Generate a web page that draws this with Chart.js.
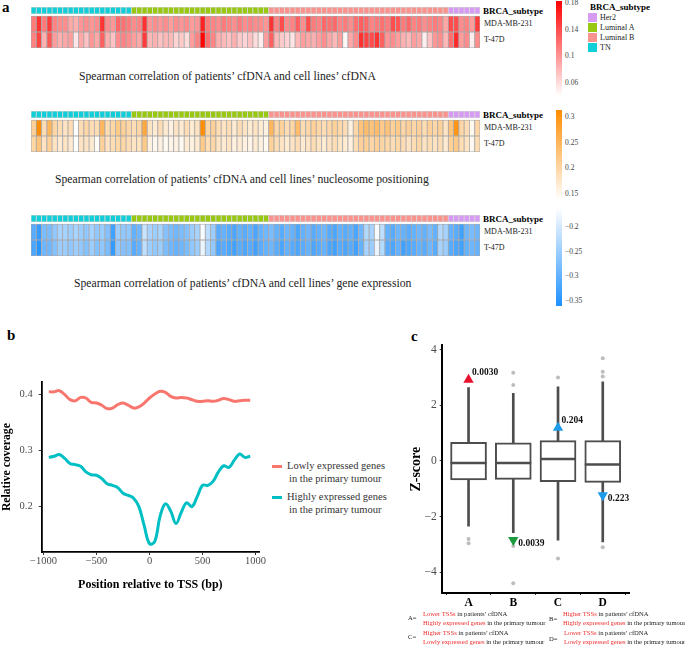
<!DOCTYPE html>
<html>
<head>
<meta charset="utf-8">
<script src="https://cdn.jsdelivr.net/npm/chart.js@4.4.1/dist/chart.umd.min.js"></script>
<style>
  body { margin: 0; background: #fff; }
  #fig { position: relative; width: 685px; height: 646px; overflow: hidden;
         font-family: "Liberation Serif", "Times New Roman", serif; color: #222; }
  #fig canvas { position: absolute; }
  .t { position: absolute; white-space: nowrap; line-height: 1; transform: translateY(-50%); }
  .b { font-weight: bold; color: #000; }
  .bar { position: absolute; left: 556px; width: 6px; }
  .sw { position: absolute; width: 9px; height: 9px; left: 588px; }
  .ln { position: absolute; left: 272px; width: 10px; height: 3px; }
  .red { color: #ee2c2c; }
</style>
</head>
<body>
<div id="fig">
  <!-- panel a -->
  <div class="t b" style="left:2px;top:7px;font-size:15px">a</div>
  <canvas id="hm1" width="449" height="41" style="left:31px;top:7px"></canvas>
  <canvas id="hm2" width="449" height="41" style="left:31px;top:111px"></canvas>
  <canvas id="hm3" width="449" height="41" style="left:31px;top:215px"></canvas>
  <div id="hmText"></div>
  <div class="t" style="left:79px;top:77px;font-size:11.7px">Spearman correlation of patients’ cfDNA and cell lines’ cfDNA</div>
  <div class="t" style="left:55px;top:180px;font-size:11.7px">Spearman correlation of patients’ cfDNA and cell lines’ nucleosome positioning</div>
  <div class="t" style="left:74px;top:284px;font-size:11.7px">Spearman correlation of patients’ cfDNA and cell lines’ gene expression</div>
  <div id="bars"></div>
  <div id="subLegend"></div>

  <!-- panel b -->
  <div class="t b" style="left:7px;top:335px;font-size:15px">b</div>
  <canvas id="tss" width="270" height="230" style="left:0;top:370px"></canvas>
  <div class="ln" style="top:465px;background:#F8766D"></div>
  <div class="t" style="left:287px;top:466px;font-size:10.5px;color:#333">Lowly expressed genes</div>
  <div class="t" style="left:289px;top:479px;font-size:10.5px;color:#333">in the primary tumour</div>
  <div class="ln" style="top:496px;background:#00BFC4"></div>
  <div class="t" style="left:287px;top:497px;font-size:10.5px;color:#333">Highly expressed genes</div>
  <div class="t" style="left:289px;top:510px;font-size:10.5px;color:#333">in the primary tumour</div>

  <!-- panel c -->
  <div class="t b" style="left:411px;top:336px;font-size:15px">c</div>
  <canvas id="zbox" width="250" height="290" style="left:400px;top:325px"></canvas>
  <div style="font-size:6.6px">
    <div class="t" style="left:408px;top:618px">A=</div>
    <div class="t" style="left:423px;top:614px"><span class="red">Lower TSSs</span> in patients’ cfDNA</div>
    <div class="t" style="left:423px;top:622.5px"><span class="red">Highly expressed genes</span> in the primary tumour</div>
    <div class="t" style="left:549px;top:619px">B=</div>
    <div class="t" style="left:563px;top:614px"><span class="red">Higher TSSs</span> in patients’ cfDNA</div>
    <div class="t" style="left:563px;top:622.5px"><span class="red">Highly expressed genes</span> in the primary tumour</div>
    <div class="t" style="left:408px;top:637px">C=</div>
    <div class="t" style="left:423px;top:633px"><span class="red">Higher TSSs</span> in patients’ cfDNA</div>
    <div class="t" style="left:423px;top:641.5px"><span class="red">Lowly expressed genes</span> in the primary tumour</div>
    <div class="t" style="left:549px;top:639px">D=</div>
    <div class="t" style="left:564px;top:633px"><span class="red">Lower TSSs</span> in patients’ cfDNA</div>
    <div class="t" style="left:564px;top:641.5px"><span class="red">Lowly expressed genes</span> in the primary tumour</div>
  </div>
</div>

<script>
// ---- panel a: samples and correlations ----
const subtypes = ["TN", "Luminal A", "Luminal B", "Her2"];
const subtypeCounts = [19, 26, 34, 6];
const legendOrder = ["Her2", "Luminal A", "Luminal B", "TN"];
const rowNames = ["MDA-MB-231", "T-47D"];

const cfdnaMDA = [
  0.115, 0.155, 0.115, 0.15, 0.11, 0.105, 0.105, 0.09, 0.085, 0.1, 0.105, 0.1, 0.105, 0.155, 0.105, 0.1, 0.125, 0.12, 0.115,
  0.105, 0.11, 0.155, 0.1, 0.105, 0.1, 0.105, 0.095, 0.105, 0.1, 0.105, 0.095, 0.1, 0.165, 0.115, 0.11, 0.105, 0.115, 0.11, 0.105, 0.115, 0.105, 0.11, 0.105, 0.105, 0.1,
  0.155, 0.11, 0.14, 0.105, 0.11, 0.13, 0.105, 0.14, 0.115, 0.11, 0.125, 0.12, 0.125, 0.11, 0.115, 0.105, 0.12, 0.13, 0.125, 0.11, 0.115, 0.12, 0.115, 0.14, 0.135, 0.115, 0.125, 0.11, 0.115, 0.105, 0.11, 0.115, 0.11, 0.09,
  0.14, 0.14, 0.105, 0.11, 0.095, 0.15
];
const cfdnaT47D = [
  0.11, 0.145, 0.085, 0.135, 0.095, 0.085, 0.09, 0.095, 0.055, 0.09, 0.075, 0.1, 0.09, 0.13, 0.085, 0.075, 0.105, 0.11, 0.105,
  0.095, 0.09, 0.15, 0.08, 0.085, 0.075, 0.08, 0.08, 0.065, 0.07, 0.06, 0.095, 0.11, 0.18, 0.12, 0.11, 0.085, 0.08, 0.075, 0.085, 0.07, 0.065, 0.075, 0.06, 0.05, 0.095,
  0.13, 0.08, 0.07, 0.065, 0.055, 0.08, 0.095, 0.09, 0.085, 0.095, 0.105, 0.09, 0.08, 0.095, 0.045, 0.09, 0.105, 0.155, 0.145, 0.14, 0.155, 0.13, 0.1, 0.105, 0.095, 0.085, 0.08, 0.095, 0.09, 0.05, 0.075, 0.1, 0.105, 0.08,
  0.12, 0.16, 0.095, 0.105, 0.05, 0.105
];
const nucMDA = [
  0.21, 0.31, 0.19, 0.25, 0.2, 0.19, 0.18, 0.19, 0.14, 0.19, 0.2, 0.19, 0.19, 0.25, 0.19, 0.2, 0.22, 0.21, 0.2,
  0.19, 0.2, 0.27, 0.18, 0.17, 0.19, 0.17, 0.16, 0.18, 0.17, 0.19, 0.17, 0.18, 0.31, 0.2, 0.21, 0.19, 0.18, 0.19, 0.17, 0.19, 0.18, 0.17, 0.18, 0.17, 0.16,
  0.25, 0.2, 0.21, 0.19, 0.2, 0.24, 0.19, 0.2, 0.21, 0.2, 0.19, 0.2, 0.21, 0.2, 0.19, 0.16, 0.2, 0.23, 0.24, 0.23, 0.24, 0.22, 0.23, 0.21, 0.22, 0.2, 0.21, 0.2, 0.21, 0.19, 0.21, 0.2, 0.21, 0.18,
  0.23, 0.3, 0.2, 0.19, 0.15, 0.2
];
const nucT47D = [
  0.2, 0.23, 0.18, 0.21, 0.18, 0.17, 0.18, 0.17, 0.14, 0.18, 0.18, 0.17, 0.145, 0.21, 0.18, 0.19, 0.2, 0.2, 0.19,
  0.18, 0.18, 0.22, 0.16, 0.15, 0.16, 0.15, 0.155, 0.16, 0.15, 0.17, 0.16, 0.17, 0.22, 0.19, 0.2, 0.18, 0.17, 0.18, 0.16, 0.17, 0.16, 0.155, 0.17, 0.16, 0.15,
  0.21, 0.19, 0.18, 0.17, 0.18, 0.19, 0.17, 0.18, 0.19, 0.18, 0.17, 0.18, 0.19, 0.18, 0.17, 0.16, 0.19, 0.21, 0.21, 0.2, 0.21, 0.2, 0.2, 0.19, 0.2, 0.19, 0.18, 0.19, 0.2, 0.18, 0.19, 0.18, 0.19, 0.17,
  0.21, 0.22, 0.19, 0.18, 0.15, 0.19
];
const exprMDA = [
  -0.31, -0.34, -0.28, -0.28, -0.26, -0.24, -0.24, -0.25, -0.24, -0.25, -0.26, -0.24, -0.26, -0.25, -0.27, -0.33, -0.25, -0.26, -0.26,
  -0.3, -0.29, -0.21, -0.24, -0.25, -0.24, -0.27, -0.28, -0.29, -0.28, -0.27, -0.25, -0.24, -0.17, -0.22, -0.25, -0.31, -0.3, -0.31, -0.32, -0.3, -0.31, -0.3, -0.32, -0.3, -0.29,
  -0.28, -0.3, -0.31, -0.29, -0.3, -0.32, -0.3, -0.29, -0.31, -0.3, -0.29, -0.31, -0.32, -0.3, -0.31, -0.3, -0.32, -0.29, -0.23, -0.24, -0.17, -0.22, -0.3, -0.31, -0.29, -0.3, -0.31, -0.3, -0.29, -0.3, -0.28, -0.3, -0.23, -0.24,
  -0.3, -0.31, -0.33, -0.29, -0.28, -0.29
];
const exprT47D = [
  -0.32, -0.35, -0.29, -0.29, -0.27, -0.25, -0.25, -0.26, -0.25, -0.26, -0.27, -0.25, -0.27, -0.26, -0.28, -0.34, -0.26, -0.27, -0.27,
  -0.31, -0.3, -0.22, -0.25, -0.26, -0.25, -0.28, -0.29, -0.3, -0.29, -0.28, -0.26, -0.25, -0.18, -0.23, -0.26, -0.32, -0.31, -0.32, -0.33, -0.31, -0.32, -0.31, -0.33, -0.31, -0.3,
  -0.29, -0.31, -0.32, -0.3, -0.31, -0.32, -0.31, -0.3, -0.32, -0.31, -0.3, -0.32, -0.33, -0.31, -0.32, -0.31, -0.33, -0.3, -0.24, -0.25, -0.18, -0.23, -0.31, -0.32, -0.3, -0.33, -0.32, -0.31, -0.3, -0.31, -0.29, -0.31, -0.24, -0.25,
  -0.31, -0.32, -0.33, -0.3, -0.29, -0.3
];
const cfdnaTicks = [0.18, 0.14, 0.1, 0.06];
const nucTicks = [0.3, 0.25, 0.2, 0.15];
const exprTicks = [-0.2, -0.25, -0.3, -0.35];

// ---- panel b: coverage around TSS ----
const tssPositions = [-950, -900, -850, -800, -750, -700, -650, -600, -550, -500, -450, -400, -350, -300, -250, -200, -150, -100, -50,
  0, 50, 100, 150, 200, 250, 300, 350, 400, 450, 500, 550, 600, 650, 700, 750, 800, 850, 900, 950];
const lowlyCoverage = [0.405, 0.405, 0.407, 0.4, 0.391, 0.389, 0.395, 0.394, 0.386, 0.385, 0.381, 0.375, 0.376, 0.382, 0.385, 0.381, 0.376, 0.378, 0.385,
  0.394, 0.401, 0.406, 0.404, 0.397, 0.394, 0.395, 0.394, 0.391, 0.388, 0.388, 0.389, 0.388, 0.39, 0.393, 0.391, 0.388, 0.389, 0.39, 0.39];
const highlyCoverage = [0.288, 0.29, 0.293, 0.286, 0.277, 0.275, 0.272, 0.262, 0.257, 0.256, 0.25, 0.241, 0.238, 0.234, 0.224, 0.22, 0.215, 0.2, 0.166,
  0.134, 0.138, 0.183, 0.205, 0.192, 0.17, 0.19, 0.207, 0.2, 0.218, 0.238, 0.238, 0.245, 0.262, 0.273, 0.27, 0.283, 0.294, 0.288, 0.29];

// ---- panel c: z-scores ----
const groups = ["A", "B", "C", "D"];
const whiskerLow = [-2.34, -2.57, -2.84, -2.91];
const boxQ1 = [-0.68, -0.66, -0.74, -0.77];
const boxMedian = [-0.07, -0.07, 0.07, -0.125];
const boxQ3 = [0.67, 0.65, 0.73, 0.73];
const whiskerHigh = [2.64, 2.43, 2.66, 2.84];
const outlierGroup = ["A", "A", "B", "B", "B", "B", "C", "C", "D", "D", "D", "D"];
const outlierValue = [-2.8, -2.95, 2.73, 3.17, -3.05, -4.39, 3.0, -3.5, 3.69, 3.2, 3.03, -3.1];
const markerValue = [2.92, -2.84, 1.19, -1.23];
const markerDir = ["up", "down", "up", "down"];
const markerLabel = ["0.0030", "0.0039", "0.204", "0.223"];

// ---- helpers ----
Chart.defaults.font.family = '"Liberation Serif", "Times New Roman", serif';
const subtypeColors = { "TN": "#12CED8", "Luminal A": "#98C812", "Luminal B": "#F9938E", "Her2": "#D79BF4" };
const minus = s => String(s).replace("-", "\u2212");

function shader(lo, hi, rgb) {
  return v => {
    const t = Math.max(0, Math.min(1, (v - lo) / (hi - lo)));
    const c = rgb.map(k => Math.round(255 + (k - 255) * t));
    return `rgb(${c[0]},${c[1]},${c[2]})`;
  };
}

const sampleSubtype = [];
subtypes.forEach((s, i) => { for (let k = 0; k < subtypeCounts[i]; k++) sampleSubtype.push(s); });

function heatmap(id, mda, t47, shade) {
  const labels = sampleSubtype.map((_, i) => "S" + (i + 1));
  const cell = { borderColor: "#a9a9a9", borderWidth: 0.8, borderSkipped: false };
  new Chart(document.getElementById(id), {
    type: "bar",
    data: {
      labels,
      datasets: [
        { label: rowNames[1], data: labels.map(() => 16), backgroundColor: t47.map(shade), ...cell },
        { label: rowNames[0], data: labels.map(() => 16), backgroundColor: mda.map(shade), ...cell },
        { label: "gap", data: labels.map(() => 2), backgroundColor: "rgba(0,0,0,0)", borderWidth: 0 },
        { label: "BRCA_subtype", data: labels.map(() => 7), backgroundColor: sampleSubtype.map(s => subtypeColors[s]),
          borderColor: "#d4d4d4", borderWidth: 0.8, borderSkipped: false }
      ]
    },
    options: {
      responsive: false, animation: false,
      layout: { padding: 0 },
      datasets: { bar: { categoryPercentage: 1, barPercentage: 1 } },
      plugins: { legend: { display: false }, tooltip: { enabled: false } },
      scales: {
        x: { display: false, stacked: true },
        y: { display: false, stacked: true, min: 0, max: 41 }
      }
    }
  });
}

heatmap("hm1", cfdnaMDA, cfdnaT47D, shader(0.0405, 0.183, [255, 0, 0]));
heatmap("hm2", nucMDA, nucT47D, shader(0.139, 0.313, [255, 140, 0]));
heatmap("hm3", exprMDA, exprT47D, shader(-0.162, -0.36, [30, 144, 255]));

// row / annotation names beside each heatmap
let txt = "";
[7, 111, 215].forEach(top => {
  txt += `<div class="t b" style="left:483px;top:${top + 3.5}px;font-size:9px">BRCA_subtype</div>`;
  txt += `<div class="t" style="left:484px;top:${top + 17}px;font-size:8px;color:#222">${rowNames[0]}</div>`;
  txt += `<div class="t" style="left:484px;top:${top + 33}px;font-size:8px;color:#222">${rowNames[1]}</div>`;
});
document.getElementById("hmText").innerHTML = txt;

// colour bars
let bars = "";
[
  { top: 1, h: 95, hi: 0.183, lo: 0.0405, col: "#ff0000", ticks: cfdnaTicks },
  { top: 110, h: 90, hi: 0.313, lo: 0.139, col: "#ff8c00", ticks: nucTicks },
  { top: 208, h: 98, hi: -0.162, lo: -0.36, col: "#1e90ff", ticks: exprTicks }
].forEach((b, i) => {
  const grad = i === 2 ? `linear-gradient(#fff, ${b.col})` : `linear-gradient(${b.col}, #fff)`;
  bars += `<div class="bar" style="top:${b.top}px;height:${b.h}px;background:${grad}"></div>`;
  b.ticks.forEach(v => {
    const y = b.top + (b.hi - v) / (b.hi - b.lo) * b.h;
    bars += `<div class="t" style="left:565px;top:${y}px;font-size:7.5px;color:#444">${minus(v)}</div>`;
  });
});
document.getElementById("bars").innerHTML = bars;

let leg = `<div class="t b" style="left:590px;top:7px;font-size:9px">BRCA_subtype</div>`;
legendOrder.forEach((s, i) => {
  leg += `<div class="sw" style="top:${13 + i * 10}px;background:${subtypeColors[s]}"></div>`;
  leg += `<div class="t" style="left:600px;top:${17.5 + i * 10}px;font-size:8px;color:#222">${s}</div>`;
});
document.getElementById("subLegend").innerHTML = leg;

// ---- panel b chart ----
const axisBorder = { color: "#000", width: 1.8 };
const tickGrid = { drawOnChartArea: false, color: "#333", tickLength: 3 };
new Chart(document.getElementById("tss"), {
  type: "line",
  data: {
    datasets: [
      { label: "Lowly expressed genes in the primary tumour",
        data: tssPositions.map((p, i) => ({ x: p, y: lowlyCoverage[i] })),
        borderColor: "#F8766D", borderWidth: 3, pointRadius: 0, tension: 0.4 },
      { label: "Highly expressed genes in the primary tumour",
        data: tssPositions.map((p, i) => ({ x: p, y: highlyCoverage[i] })),
        borderColor: "#00BFC4", borderWidth: 3, pointRadius: 0, tension: 0.4 }
    ]
  },
  options: {
    responsive: false, animation: false,
    layout: { padding: { top: 10, right: 11, left: 0, bottom: 0 } },
    plugins: { legend: { display: false }, tooltip: { enabled: false } },
    scales: {
      x: {
        type: "linear", min: -1017, max: 1033,
        afterBuildTicks: s => { s.ticks = [-1000, -500, 0, 500, 1000].map(v => ({ value: v })); },
        afterFit: s => { s.height = 48; },
        border: axisBorder, grid: tickGrid,
        ticks: { color: "#4d4d4d", font: { size: 10.5 }, padding: 0, maxRotation: 0, callback: v => minus(v) },
        title: { display: true, text: "Position relative to TSS (bp)", color: "#000",
                 font: { size: 12, weight: "bold" }, padding: { top: 4, bottom: 8 } }
      },
      y: {
        min: 0.119, max: 0.422,
        afterBuildTicks: s => { s.ticks = [0.2, 0.3, 0.4].map(v => ({ value: v })); },
        afterFit: s => { s.width = 41.7; },
        border: axisBorder, grid: tickGrid,
        ticks: { color: "#4d4d4d", font: { size: 10.5 }, padding: 6, callback: v => v.toFixed(1) },
        title: { display: true, text: "Relative coverage", color: "#000",
                 font: { size: 11.7, weight: "bold" }, padding: { top: 0, bottom: 0 } }
      }
    }
  }
});

// ---- panel c chart ----
const markerColors = ["#E8112D", "#1B9A3E", "#1E9BE8", "#1E9BE8"];
const markerText = {
  id: "markerText",
  afterDatasetsDraw(chart) {
    const { ctx, scales: { x, y } } = chart;
    ctx.save();
    ctx.font = 'bold 9.5px "Liberation Serif", serif';
    ctx.fillStyle = "#111";
    ctx.textBaseline = "middle";
    markerLabel.forEach((t, i) => {
      const px = x.getPixelForValue(i + 1);
      const py = y.getPixelForValue(markerValue[i]);
      const up = markerDir[i] === "up";
      ctx.fillText(t, px + (up ? 3.5 : 5), py + (up ? -7.5 : 3.5));
    });
    ctx.restore();
  }
};

new Chart(document.getElementById("zbox"), {
  type: "bar",
  data: {
    datasets: [
      { type: "scatter", label: "significance", order: 0,
        data: groups.map((g, i) => ({ x: i + 1, y: markerValue[i] })),
        pointStyle: "triangle", pointRadius: 6, pointRotation: markerDir.map(d => d === "down" ? 180 : 0),
        pointBackgroundColor: markerColors, pointBorderColor: markerColors, pointBorderWidth: 0 },
      { type: "scatter", label: "median", order: 1,
        data: groups.map((g, i) => ({ x: i + 1, y: boxMedian[i] })),
        pointStyle: "line", pointRadius: 18, pointBorderColor: "#4d4d4d", pointBorderWidth: 2.4 },
      { type: "bar", label: "box", order: 2,
        data: groups.map((g, i) => ({ x: i + 1, y: [boxQ1[i], boxQ3[i]] })),
        backgroundColor: "#fff", borderColor: "#4d4d4d", borderWidth: 2, borderSkipped: false, barThickness: 36 },
      { type: "bar", label: "whisker", order: 3,
        data: groups.map((g, i) => ({ x: i + 1, y: [whiskerLow[i], whiskerHigh[i]] })),
        backgroundColor: "#4d4d4d", barThickness: 2 },
      { type: "scatter", label: "outliers", order: 4,
        data: outlierGroup.map((g, i) => ({ x: groups.indexOf(g) + 1, y: outlierValue[i] })),
        pointRadius: 2, pointBackgroundColor: "#bdbdbd", pointBorderWidth: 0 }
    ]
  },
  options: {
    responsive: false, animation: false,
    layout: { padding: { top: 8, right: 10, left: 0, bottom: 0 } },
    datasets: { bar: { grouped: false } },
    plugins: { legend: { display: false }, tooltip: { enabled: false } },
    scales: {
      x: {
        type: "linear", min: 0.4, max: 4.6, offset: false,
        afterBuildTicks: s => { s.ticks = [1, 2, 3, 4].map(v => ({ value: v })); },
        afterFit: s => { s.height = 22; },
        border: { color: "#000", width: 2 }, grid: { drawOnChartArea: false, color: "#333", tickLength: 2 },
        ticks: { color: "#000", font: { size: 11.5, weight: "bold" }, padding: 1, callback: v => groups[v - 1] }
      },
      y: {
        min: -4.74, max: 4.15,
        afterBuildTicks: s => { s.ticks = [-4, -2, 0, 2, 4].map(v => ({ value: v })); },
        afterFit: s => { s.width = 41.7; },
        border: { color: "#000", width: 2 }, grid: { drawOnChartArea: false, color: "#333", tickLength: 2 },
        ticks: { color: "#4d4d4d", font: { size: 11.5 }, padding: 3, callback: v => minus(v) },
        title: { display: true, text: "Z-score", color: "#000",
                 font: { size: 14, weight: "bold" }, padding: { top: 7.7, bottom: 0 } }
      }
    }
  },
  plugins: [markerText]
});
</script>
</body>
</html>
